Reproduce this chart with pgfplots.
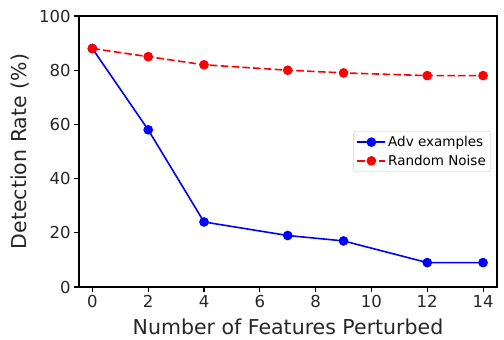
\documentclass[border=0pt]{standalone}
\usepackage{pgfplots}
\pgfplotsset{compat=1.18}
\usepackage{fontspec}
\setmainfont{DejaVu Sans}

\begin{document}
\begin{tikzpicture}
\begin{axis}[
    width=418bp, height=271bp,
    scale only axis,
    xmin=-0.48, xmax=14.5,
    ymin=0, ymax=100,
    xtick={0,2,...,14},
    ytick={0,20,...,100},
    tick align=outside,
    xtick pos=bottom, ytick pos=left,
    major tick length=4.9bp,
    tick style={black, line width=1.1bp},
    axis line style={black, line width=1.1bp},
    ticklabel style={font=\fontsize{16.5bp}{19bp}\selectfont, text=black!85},
    /pgf/number format/assume math mode=true,
    xlabel={Number of Features Perturbed},
    ylabel={Detection Rate (\%)},
    every axis x label/.style={at={(axis description cs:0.5,-0.1476)}, anchor=center,
        font=\fontsize{20.5bp}{24bp}\selectfont, text=black!85},
    every axis y label/.style={at={(axis description cs:-0.1411,0.5)}, rotate=90, anchor=center,
        font=\fontsize{20.5bp}{24bp}\selectfont, text=black!85},
    legend style={
        at={(1,0.5)}, anchor=east, xshift=-6bp,
        font=\fontsize{13.5bp}{16bp}\selectfont,
        draw=black!20, rounded corners=2.5bp,
        row sep=3bp, inner sep=3bp
    },
    legend cell align=left,
    legend image code/.code={
        \draw[mark repeat=2, mark phase=2]
        plot coordinates {(0bp,0bp) (14bp,0bp) (28bp,0bp)};
    },
]
\addplot[blue, line width=1.6bp, mark=*, mark size=4bp, mark options={solid, fill=blue, draw=blue}]
    coordinates {(0,88) (2,58) (4,24) (7,19) (9,17) (12,9) (14,9)};
\addlegendentry{Adv examples}
\addplot[red, dash pattern=on 7.5bp off 3.3bp, line width=1.6bp, mark=*, mark size=4bp, mark options={solid, fill=red, draw=red}]
    coordinates {(0,88) (2,85) (4,82) (7,80) (9,79) (12,78) (14,78)};
\addlegendentry{Random Noise}
\end{axis}
\pgfresetboundingbox
\useasboundingbox ([shift={(-79bp,-53bp)}]current axis.south west)
    rectangle ([shift={(7bp,16bp)}]current axis.north east);
\end{tikzpicture}
\end{document}
